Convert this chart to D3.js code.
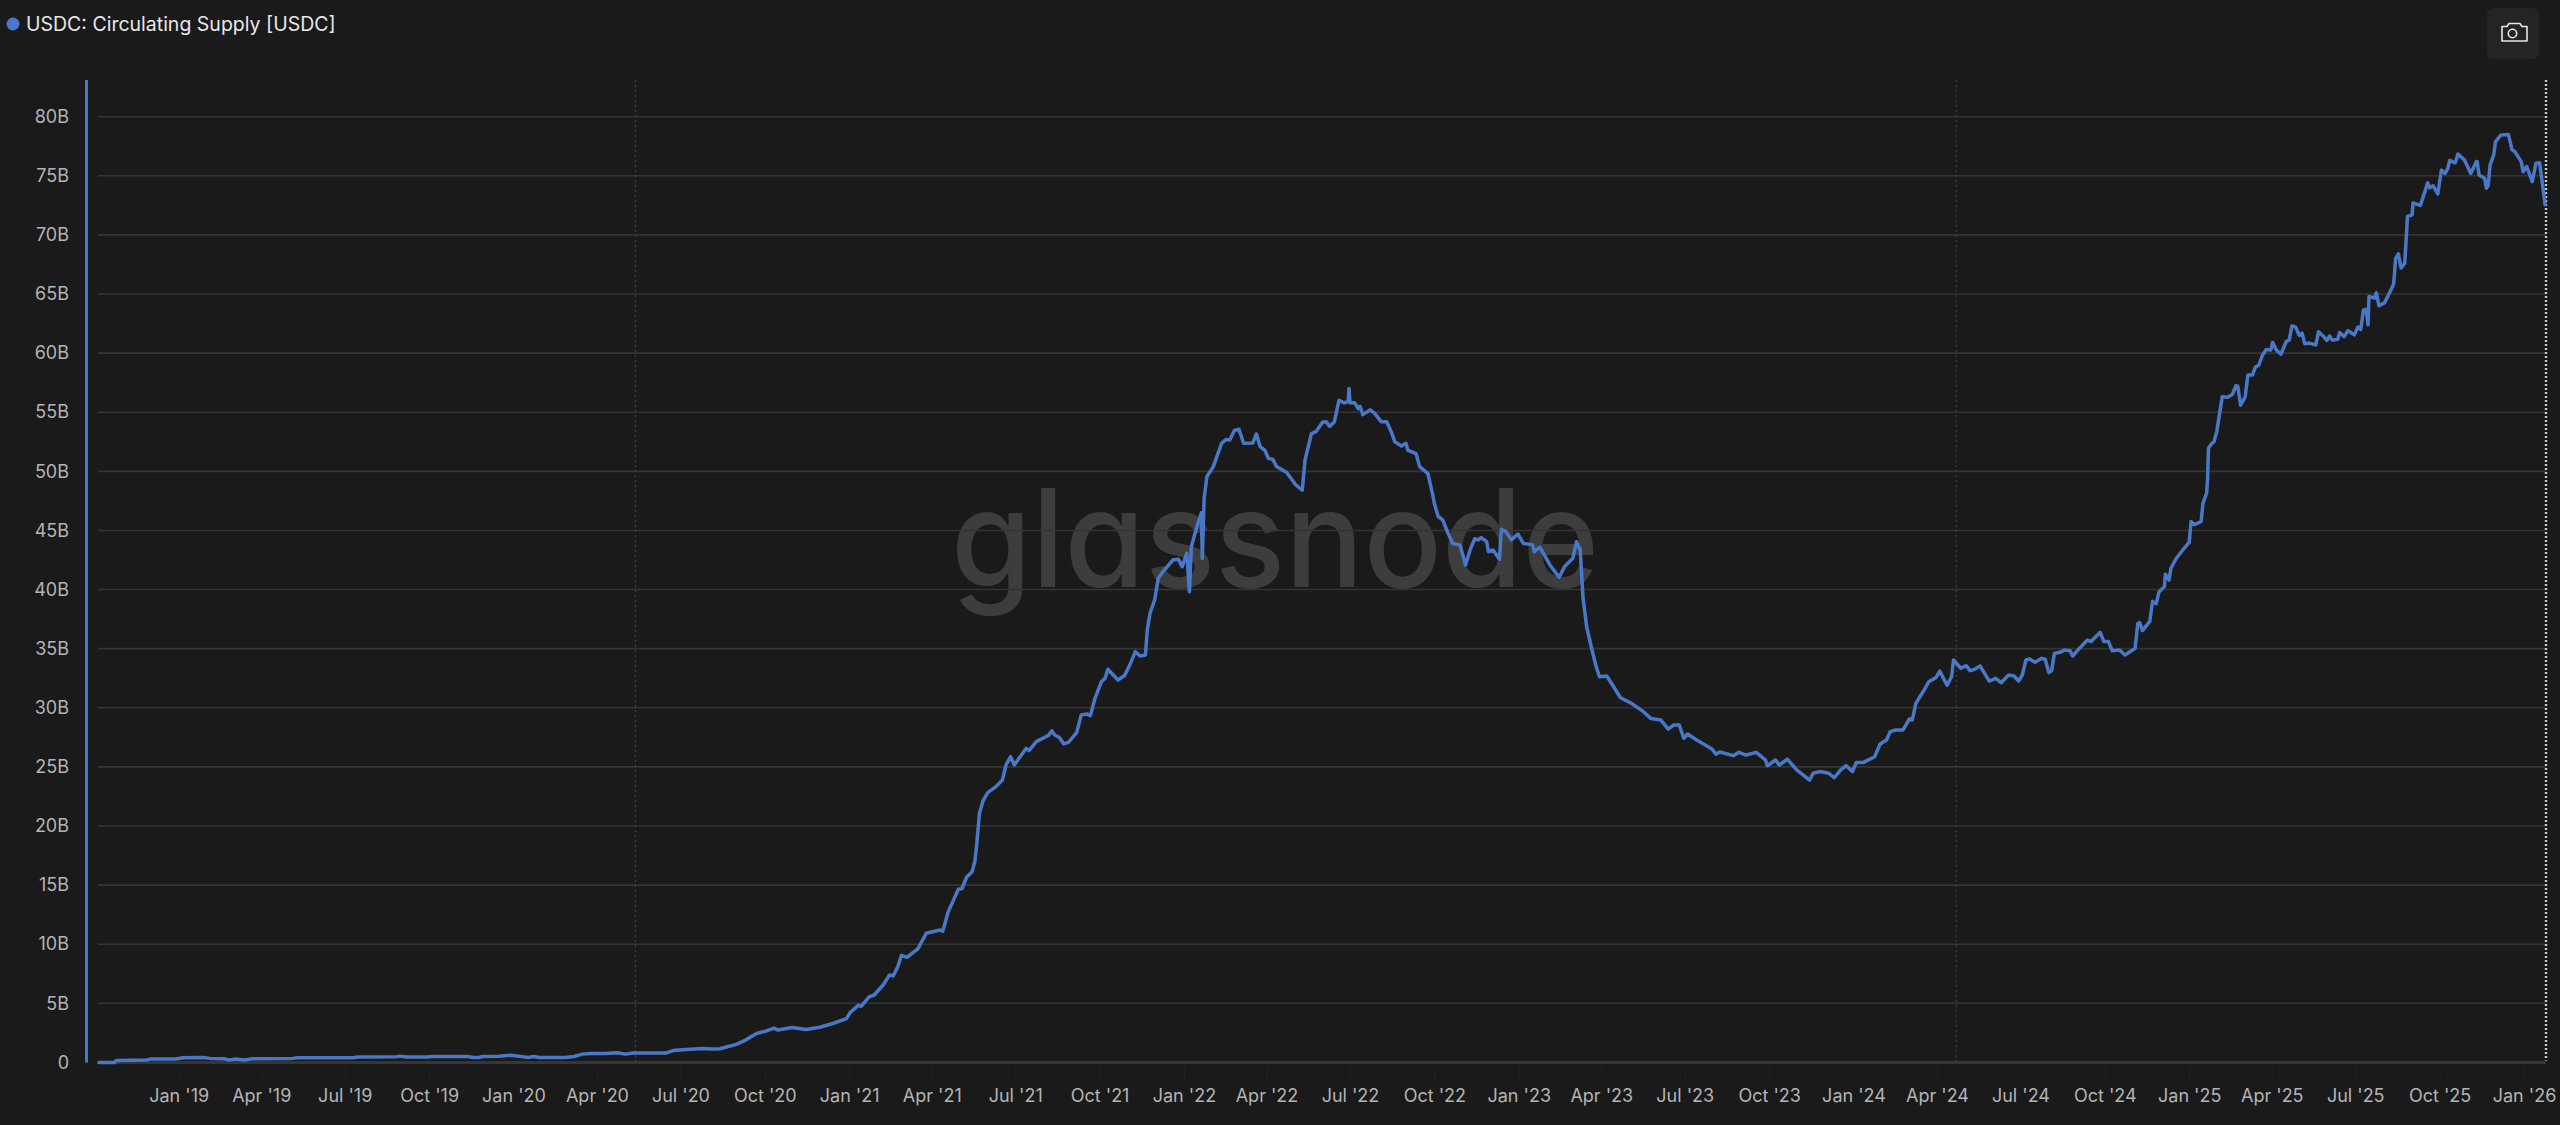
<!DOCTYPE html>
<html>
<head>
<meta charset="utf-8">
<script src="https://cdn.jsdelivr.net/npm/d3@7"></script>
<style>
html,body{margin:0;padding:0;background:#1a1a1a;overflow:hidden}
svg{display:block}
text{font-family:Inter,"Noto Sans",sans-serif}
</style>
</head>
<body>
<svg id="chart" width="2560" height="1125"></svg>
<script>
const seriesName = "USDC: Circulating Supply [USDC]";
const watermark = "glassnode";
const startDate = "2018-10-05";
const endDate = "2026-01-25";

// Days since startDate / supply in billions of USDC
const days2018 = [1,18,20,53,57,84,93,115,122,137,143,150,159,169,212,218,278,283,325,329,336,359,364,403,409,415,419,437,450,459,469,475,481,509,519,528,537,553,566,575,584,619,627,641,660,669,678,696,706,718,728,737,741,757,772];
const vals2018 = [0,0,.17,.2,.28,.28,.4,.42,.34,.31,.2,.28,.2,.31,.34,.4,.4,.45,.48,.53,.45,.45,.5,.5,.42,.42,.5,.53,.6,.53,.42,.5,.42,.42,.5,.7,.76,.76,.82,.7,.79,.79,1,1.1,1.18,1.13,1.15,1.52,1.89,2.45,2.65,2.9,2.74,2.96,2.79];

const days2021 = [787,802,816,820,829,832,841,846,856,863,867,872,876,882,894,903,918,921,927,932,938,942,947,953,956,958,961,965,970,979,986,990,995,999,1012,1015,1023,1036,1040,1043,1048,1053,1058,1067,1072,1078,1082,1087,1094,1098,1101,1112,1119,1125,1131,1136,1142];
const vals2021 = [2.97,3.31,3.7,4.21,4.83,4.74,5.56,5.68,6.55,7.4,7.31,8.1,9.06,8.89,9.63,10.92,11.2,11.09,12.75,13.6,14.64,14.7,15.66,16.13,16.99,18.39,21.07,22.14,22.82,23.33,23.89,25.16,25.86,25.16,26.57,26.38,27.14,27.65,28.04,27.7,27.5,26.94,27.08,27.9,29.4,29.48,29.34,30.8,32.2,32.5,33.26,32.35,32.7,33.63,34.75,34.38,34.47];

const days2022 = [1144,1147,1152,1156,1161,1172,1178,1182,1187,1190,1192,1198,1203,1204,1206,1209,1216,1225,1230,1234,1239,1244,1249,1259,1263,1267,1272,1276,1281,1285,1296,1306,1313,1316,1323,1328,1335,1339,1343,1348,1353,1359,1363,1364,1365,1370,1374,1376,1379,1387,1392,1399,1405,1410,1414,1421,1426,1428,1437,1441,1450,1455,1457,1461,1466,1472,1477,1485,1491,1496,1501,1505,1508,1514,1516,1521,1528,1530,1535,1541,1548,1554,1564,1566,1572,1583,1593,1599,1608,1612,1616,1619,1623,1628,1633];
const vals2022 = [36.58,38,39.12,40.95,41.5,42.5,42.56,41.94,43.07,39.82,43.6,45.3,46.5,42.64,47.72,49.55,50.4,52.37,52.7,52.66,53.45,53.56,52.37,52.4,53.16,52.1,51.8,51.1,51,50.4,49.9,48.85,48.4,50.96,53.2,53.36,54.15,54.2,53.8,54.2,56,55.8,55.9,57,55.8,55.8,55.3,55.5,54.8,55.2,54.9,54.2,54.2,53.36,52.5,52.15,52.37,51.8,51.5,50.4,49.8,48.1,47.3,46.2,45.9,44.76,43.9,43.77,42.08,43.35,44.3,44.2,44.4,44.05,43.2,43.35,42.56,45.1,44.9,44.2,44.7,43.9,43.8,43.2,43.6,42.08,41.04,41.94,42.65,44.05,43.35,39.4,36.87,35.17,33.6];

const days2023 = [1637,1645,1649,1660,1672,1685,1693,1704,1712,1718,1724,1729,1733,1743,1760,1764,1768,1783,1789,1797,1808,1818,1820,1829,1833,1842,1852,1860,1866,1870,1877,1887,1893,1900,1906,1913,1917,1925,1937,1943,1950,1954,1960,1968,1975,1978,1982,1991,1996,2004,2008,2016,2021,2023,2031,2037,2041,2046,2052,2062,2069,2075,2083,2089,2094,2098,2102,2106,2112,2119,2123,2127,2130,2133,2139,2144,2150,2153,2158,2169,2173,2183,2187,2192,2196,2204,2210,2221];
const vals2023 = [32.63,32.69,32.2,30.85,30.37,29.67,29.1,28.96,28.2,28.54,28.54,27.42,27.78,27.27,26.5,26.06,26.26,25.95,26.23,26,26.23,25.58,25.1,25.58,25.16,25.64,24.74,24.26,23.88,24.46,24.6,24.46,24.08,24.74,25.1,24.6,25.38,25.38,25.86,26.94,27.27,27.98,28.12,28.12,29.06,28.96,30.37,31.5,32.2,32.57,33.1,31.9,32.63,34.04,33.34,33.56,33.14,33.25,33.53,32.26,32.49,32.12,32.77,32.69,32.26,32.77,34.04,34.12,33.84,34.18,34.1,32.97,33.14,34.6,34.69,34.88,34.83,34.38,34.83,35.73,35.6,36.38,35.6,35.6,34.83,34.88,34.46,35.03];

const days2025 = [2224,2226,2229,2237,2240,2244,2247,2253,2254,2258,2260,2266,2273,2280,2282,2286,2293,2295,2299,2300,2301,2304,2307,2310,2316,2322,2327,2331,2333,2336,2341,2344,2349,2352,2356,2360,2364,2369,2371,2375,2380,2386,2389,2392,2396,2400,2403,2406,2411,2418,2421,2426,2430,2433,2436,2442,2444,2449,2453,2460,2464,2467,2470,2473,2475,2476,2482,2484,2487,2493,2500,2503,2505,2508,2511,2515,2518,2523,2524,2532,2535,2540,2542,2546,2551,2555,2559,2562,2564,2570,2573,2580,2587,2593,2594,2596,2602,2604,2606,2608,2612,2614,2620,2628,2632,2635,2642,2644,2648,2654,2658,2662,2665,2668];
const vals2025 = [37.14,37.2,36.53,37.3,39,38.8,39.8,40.25,41.3,40.8,41.8,42.65,43.35,44,45.75,45.5,45.75,47.3,48.15,49.3,51.95,52.3,52.5,53.36,56.3,56.26,56.5,57.25,57.2,55.6,56.3,58.15,58.15,58.8,59,59.85,60.3,60.27,60.9,60.27,59.9,61,61.1,62.3,62.2,61.5,61.7,60.8,60.85,60.7,61.8,61.45,61.07,61.45,61.1,61.17,61.74,61.4,61.9,61.55,62.2,62,63.65,63.7,62.4,64.8,64.65,65.1,64,64.27,65.35,65.9,68,68.4,67.2,67.6,71.57,71.7,72.7,72.5,73.2,74.4,74,74.15,73.47,75.5,75.2,75.64,76.3,76.1,76.85,76.35,75.2,76.2,76.2,75.07,74.8,73.95,74.2,75.9,76.77,77.9,78.46,78.5,77.2,77.05,76.2,75.35,75.78,74.5,76.06,76.1,74.4,72.55];

const yTicks = [0,5,10,15,20,25,30,35,40,45,50,55,60,65,70,75,80];
const xTickDates = ["2019-01-01","2019-04-01","2019-07-01","2019-10-01","2020-01-01","2020-04-01","2020-07-01","2020-10-01","2021-01-01","2021-04-01","2021-07-01","2021-10-01","2022-01-01","2022-04-01","2022-07-01","2022-10-01","2023-01-01","2023-04-01","2023-07-01","2023-10-01","2024-01-01","2024-04-01","2024-07-01","2024-10-01","2025-01-01","2025-04-01","2025-07-01","2025-10-01","2026-01-01"];
const markerDates = ["2020-05-13","2024-04-22"];

const parse = d3.utcParse("%Y-%m-%d");
const fmtX = d3.utcFormat("%b '%y");
const start = parse(startDate);
const allDays = [].concat(days2018, days2021, days2022, days2023, days2025);
const allVals = [].concat(vals2018, vals2021, vals2022, vals2023, vals2025);
const data = allDays.map((d, i) => ({date: d3.utcDay.offset(start, d), value: allVals[i]}));

const BG = "#1a1a1a", GRID = "#343434", BLUE = "#4a78c8";
const plot = {left: 98, right: 2546, top: 80, bottom: 1062.4};
const x = d3.scaleUtc().domain([start, parse(endDate)]).range([plot.left, plot.right]);
const y = d3.scaleLinear().domain([0, 80]).range([plot.bottom, 116.7]);

const svg = d3.select("#chart");
svg.append("rect").attr("width", 2560).attr("height", 1125).attr("fill", BG);

// watermark
svg.append("text").text(watermark)
  .attr("x", 951).attr("y", 587)
  .attr("textLength", 648).attr("lengthAdjust", "spacingAndGlyphs")
  .attr("fill", "#3d3d3d")
  .style("font-family", "Inter, sans-serif").style("font-size", "136px")
  .style("font-weight", 500).style("font-feature-settings", "'cv11' 1");

// y axis with gridlines
const yAxis = d3.axisLeft(y).tickValues(yTicks)
  .tickFormat(d => d === 0 ? "0" : d + "B").tickSize(0).tickPadding(0);
const gy = svg.append("g").attr("transform", `translate(69,0)`).call(yAxis);
gy.select(".domain").remove();
gy.selectAll("text").attr("fill", "#b4b4b4").style("font-size", "18px").style("font-family", "Inter,sans-serif");

svg.append("g").selectAll("line").data(yTicks).join("line")
  .attr("x1", plot.left).attr("x2", plot.right)
  .attr("y1", d => y(d)).attr("y2", d => y(d))
  .attr("stroke", d => d === 0 ? "#363636" : GRID)
  .attr("stroke-width", d => d === 0 ? 3 : 1.6);

// x axis
const gx = svg.append("g").attr("transform", `translate(0,${plot.bottom + 3})`)
  .call(d3.axisBottom(x).tickValues(xTickDates.map(parse)).tickFormat(fmtX).tickSize(16).tickPadding(8));
gx.select(".domain").remove();
gx.selectAll(".tick line").attr("stroke", "#222222").attr("stroke-width", 1);
gx.selectAll("text").attr("fill", "#b4b4b4").style("font-size", "18px").style("font-family", "Inter,sans-serif");

// dotted event markers
svg.append("g").selectAll("line").data(markerDates).join("line")
  .attr("x1", d => x(parse(d))).attr("x2", d => x(parse(d)))
  .attr("y1", plot.top).attr("y2", plot.bottom)
  .attr("stroke", "#424242").attr("stroke-width", 1.2).attr("stroke-dasharray", "2,3");

// latest-value dotted line
svg.append("line")
  .attr("x1", plot.right).attr("x2", plot.right)
  .attr("y1", plot.top).attr("y2", plot.bottom - 2)
  .attr("stroke", "#c8c8c8").attr("stroke-width", 2.4).attr("stroke-dasharray", "2,2");

// left series axis bar
svg.append("line")
  .attr("x1", 86.5).attr("x2", 86.5).attr("y1", plot.top).attr("y2", plot.bottom)
  .attr("stroke", BLUE).attr("stroke-width", 3);

// series
svg.append("path").datum(data)
  .attr("fill", "none").attr("stroke", BLUE).attr("stroke-width", 3.5)
  .attr("stroke-linejoin", "round").attr("stroke-linecap", "round")
  .attr("d", d3.line().x(d => x(d.date)).y(d => y(d.value)));

// legend
svg.append("circle").attr("cx", 13).attr("cy", 24).attr("r", 6.5).attr("fill", BLUE);
svg.append("text").text(seriesName).attr("x", 26).attr("y", 31)
  .attr("fill", "#e8e8e8").style("font-size", "19.5px");

// camera button
const cam = svg.append("g");
cam.append("rect").attr("x", 2487).attr("y", 8).attr("width", 52).attr("height", 51).attr("rx", 6).attr("fill", "#242424");
cam.append("path")
  .attr("d", "M2502 26.5h5l2-3h11l2 3h5v14.5h-25z")
  .attr("fill", "none").attr("stroke", "#e6e6e6").attr("stroke-width", 1.6).attr("stroke-linejoin", "round");
cam.append("circle").attr("cx", 2512.5).attr("cy", 33.5).attr("r", 4.2)
  .attr("fill", "none").attr("stroke", "#e6e6e6").attr("stroke-width", 1.6);
</script>
</body>
</html>
